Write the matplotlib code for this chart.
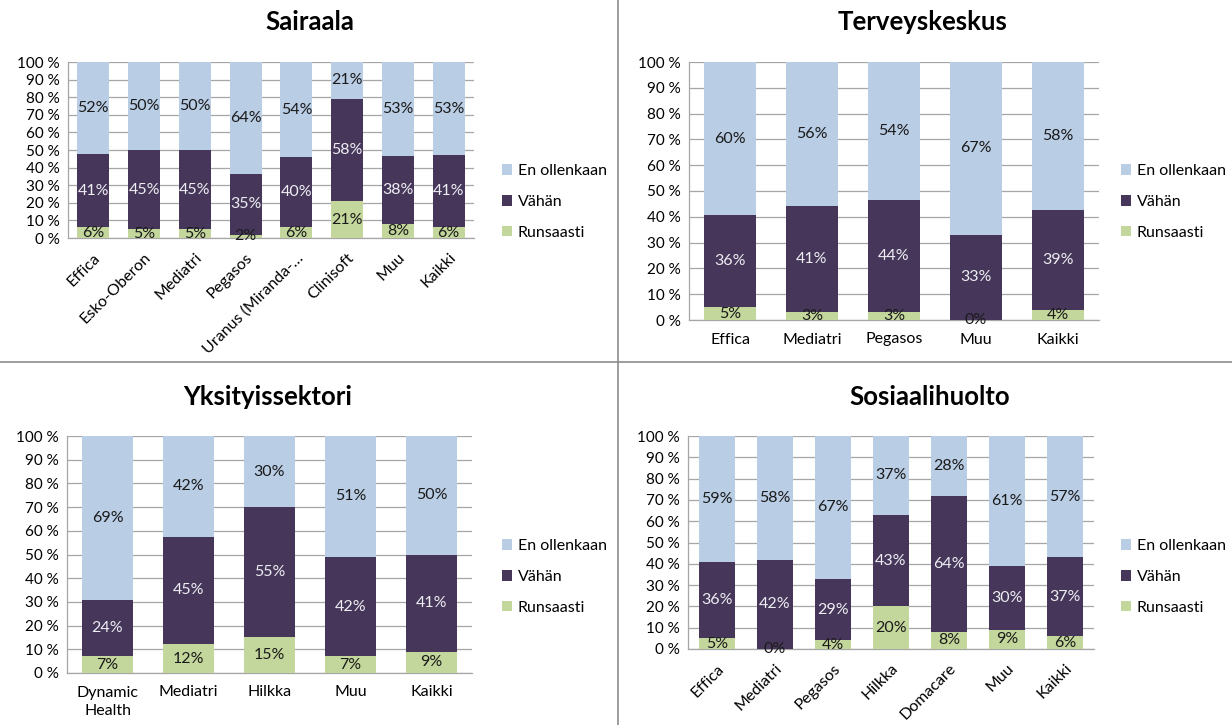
import matplotlib
matplotlib.use("Agg")
import matplotlib.pyplot as plt
import numpy as np
from matplotlib.lines import Line2D

plt.rcParams['font.family'] = ['Lato', 'DejaVu Sans']

W, H = 1232, 725

series_names = ["Runsaasti", "Vähän", "En ollenkaan"]
colors = ["#C3D69B", "#46375A", "#B9CDE5"]
label_colors = ["#1A1A1A", "#EDEDF2", "#1A1A1A"]

# Sairaala
sai_cats = ["Effica", "Esko-Oberon", "Mediatri", "Pegasos", "Uranus (Miranda-…", "Clinisoft", "Muu", "Kaikki"]
sai_runsaasti = [6, 5, 5, 2, 6, 21, 8, 6]
sai_vahan = [41, 45, 45, 35, 40, 58, 38, 41]
sai_en = [52, 50, 50, 64, 54, 21, 53, 53]

# Terveyskeskus
ter_cats = ["Effica", "Mediatri", "Pegasos", "Muu", "Kaikki"]
ter_runsaasti = [5, 3, 3, 0, 4]
ter_vahan = [36, 41, 44, 33, 39]
ter_en = [60, 56, 54, 67, 58]

# Yksityissektori
yks_cats = ["Dynamic\nHealth", "Mediatri", "Hilkka", "Muu", "Kaikki"]
yks_runsaasti = [7, 12, 15, 7, 9]
yks_vahan = [24, 45, 55, 42, 41]
yks_en = [69, 42, 30, 51, 50]

# Sosiaalihuolto
sos_cats = ["Effica", "Mediatri", "Pegasos", "Hilkka", "Domacare", "Muu", "Kaikki"]
sos_runsaasti = [5, 0, 4, 20, 8, 9, 6]
sos_vahan = [36, 42, 29, 43, 64, 30, 37]
sos_en = [59, 58, 67, 37, 28, 61, 57]

ytick_vals = list(range(0, 101, 10))
ytick_labels = [f"{v} %" for v in ytick_vals]

fig = plt.figure(figsize=(W / 100, H / 100), dpi=100)


def px_rect(left, top, right, bottom):
    return [left / W, 1 - bottom / H, (right - left) / W, (bottom - top) / H]


def panel(rect, title, title_xy, cats, data, rotate, legend_xy):
    ax = fig.add_axes(px_rect(*rect))
    n = len(cats)
    x = np.arange(n)
    arr = np.array(data, dtype=float)
    totals = arr.sum(axis=0)
    norm = arr / totals * 100
    bottom = np.zeros(n)
    handles = []
    for i in range(3):
        bars = ax.bar(x, norm[i], 0.63, bottom=bottom, color=colors[i], zorder=3,
                      label=series_names[i])
        handles.append(bars)
        for j in range(n):
            ax.text(x[j], bottom[j] + norm[i][j] / 2, f"{int(arr[i][j])}%",
                    ha="center", va="center", fontsize=11.5, color=label_colors[i], zorder=4)
        bottom += norm[i]
    ax.set_xlim(-0.5, n - 0.5)
    ax.set_ylim(0, 100)
    ax.set_yticks(ytick_vals)
    ax.set_yticklabels(ytick_labels, fontsize=11)
    ax.yaxis.grid(True, color="#A6A6A6", linewidth=0.9, zorder=0)
    ax.set_axisbelow(True)
    ax.set_xticks(x)
    if rotate:
        ax.set_xticklabels(cats, rotation=45, ha="right", rotation_mode="anchor", fontsize=11.5)
        ax.tick_params(axis="x", length=0, pad=9)
    else:
        ax.set_xticklabels(cats, fontsize=11.5, linespacing=1.4)
        ax.tick_params(axis="x", length=0, pad=9)
    ax.tick_params(axis="y", length=0, pad=6)
    for s in ["top", "right"]:
        ax.spines[s].set_visible(False)
    for s in ["left", "bottom"]:
        ax.spines[s].set_color("#A6A6A6")
        ax.spines[s].set_linewidth(0.9)
    fig.text(title_xy[0] / W, 1 - title_xy[1] / H, title, ha="center", va="center",
             fontsize=18.5, fontweight="bold")
    fig.legend(handles[::-1], series_names[::-1], loc="center left",
               bbox_to_anchor=(legend_xy[0] / W, 1 - legend_xy[1] / H),
               frameon=False, fontsize=11.5, labelspacing=1.05, handlelength=0.65,
               handleheight=0.65, handletextpad=0.35, borderpad=0, borderaxespad=0)
    return ax


panel((68, 62, 474, 238), "Sairaala", (310, 22), sai_cats,
      [sai_runsaasti, sai_vahan, sai_en], True, (502, 202))
panel((689, 62, 1099, 320), "Terveyskeskus", (923, 22), ter_cats,
      [ter_runsaasti, ter_vahan, ter_en], False, (1121, 202))
panel((67, 436, 472, 673), "Yksityissektori", (268, 397), yks_cats,
      [yks_runsaasti, yks_vahan, yks_en], False, (502, 577))
panel((688, 436, 1094, 649), "Sosiaalihuolto", (930, 397), sos_cats,
      [sos_runsaasti, sos_vahan, sos_en], True, (1121, 577))

# separators
fig.add_artist(Line2D([618 / W, 618 / W], [0, 1], color="#8C8C8C", linewidth=1.2))
fig.add_artist(Line2D([0, 1], [1 - 362 / H, 1 - 362 / H], color="#8C8C8C", linewidth=1.2))

fig.savefig("out.png", dpi=100, facecolor="white")
